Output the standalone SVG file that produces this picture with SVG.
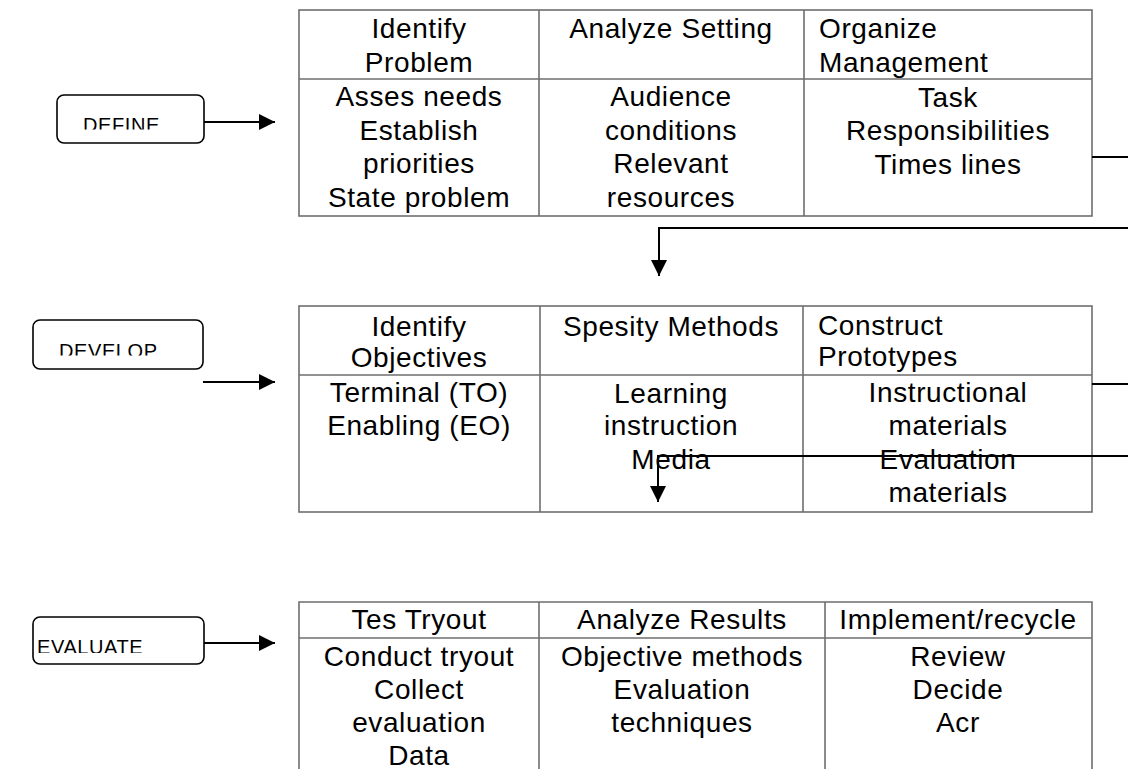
<svg xmlns="http://www.w3.org/2000/svg" width="1128" height="769" viewBox="0 0 1128 769">
<style>
.tbl{fill:none;stroke:#6e6e6e;stroke-width:1.6}
.lbl{fill:#fff;stroke:#000;stroke-width:1.6}
.t{font-family:"Liberation Sans",Arial,sans-serif;font-size:28px;letter-spacing:0.6px;fill:#000}
.c{text-anchor:middle}
.lt{font-family:"Liberation Sans",Arial,sans-serif;font-size:20px;letter-spacing:0.6px;fill:#000}
.con{fill:none;stroke:#000;stroke-width:2}
</style>
<defs>
<marker id="ah" viewBox="0 0 16 16" refX="16" refY="8" markerWidth="16" markerHeight="16" markerUnits="userSpaceOnUse" orient="auto">
<path d="M0,0 L16,8 L0,16 Z" fill="#000"/>
</marker>
<clipPath id="c1"><rect x="57" y="95" width="147" height="34.5"/></clipPath>
<clipPath id="c2"><rect x="33" y="320" width="170" height="35.5"/></clipPath>
<clipPath id="c3"><rect x="33" y="617" width="171" height="36"/></clipPath>
</defs>
<rect width="1128" height="769" fill="#fff"/>

<g id="define">
<rect class="lbl" x="57" y="95" width="147" height="48" rx="7"/>
<text class="lt" x="83" y="131.5" clip-path="url(#c1)">DEFINE</text>
</g>
<g id="develop">
<rect class="lbl" x="33" y="320" width="170" height="49" rx="7"/>
<text class="lt" x="59" y="357.5" clip-path="url(#c2)">DEVELOP</text>
</g>
<g id="evaluate">
<rect class="lbl" x="33" y="617" width="171" height="47" rx="7"/>
<text class="lt" x="37" y="654" clip-path="url(#c3)">EVALUATE</text>
</g>

<g id="define-table">
<rect class="tbl" x="299" y="10" width="793" height="206"/>
<line class="tbl" x1="299" y1="79" x2="1092" y2="79"/>
<line class="tbl" x1="539" y1="10" x2="539" y2="216"/>
<line class="tbl" x1="804" y1="10" x2="804" y2="216"/>
<text class="t c" x="419" y="38">Identify</text>
<text class="t c" x="419" y="72">Problem</text>
<text class="t c" x="419" y="106">Asses needs</text>
<text class="t c" x="419" y="140">Establish</text>
<text class="t c" x="419" y="173">priorities</text>
<text class="t c" x="419" y="207">State problem</text>
<text class="t c" x="671" y="38">Analyze Setting</text>
<text class="t c" x="671" y="106">Audience</text>
<text class="t c" x="671" y="140">conditions</text>
<text class="t c" x="671" y="173">Relevant</text>
<text class="t c" x="671" y="207">resources</text>
<text class="t" x="819" y="38">Organize</text>
<text class="t" x="819" y="72">Management</text>
<text class="t c" x="948" y="107">Task</text>
<text class="t c" x="948" y="140">Responsibilities</text>
<text class="t c" x="948" y="174">Times lines</text>
</g>

<g id="develop-table">
<rect class="tbl" x="299" y="306" width="793" height="206"/>
<line class="tbl" x1="299" y1="375" x2="1092" y2="375"/>
<line class="tbl" x1="540" y1="306" x2="540" y2="512"/>
<line class="tbl" x1="803" y1="306" x2="803" y2="512"/>
<text class="t c" x="419" y="336">Identify</text>
<text class="t c" x="419" y="367">Objectives</text>
<text class="t c" x="419" y="402">Terminal (TO)</text>
<text class="t c" x="419" y="435">Enabling (EO)</text>
<text class="t c" x="671" y="336">Spesity Methods</text>
<text class="t c" x="671" y="403">Learning</text>
<text class="t c" x="671" y="435">instruction</text>
<text class="t c" x="671" y="469">Media</text>
<text class="t" x="818" y="335">Construct</text>
<text class="t" x="818" y="366">Prototypes</text>
<text class="t c" x="948" y="402">Instructional</text>
<text class="t c" x="948" y="435">materials</text>
<text class="t c" x="948" y="469">Evaluation</text>
<text class="t c" x="948" y="502">materials</text>
</g>

<g id="evaluate-table">
<path class="tbl" d="M299,769 V602 H1092 V769"/>
<line class="tbl" x1="299" y1="638" x2="1092" y2="638"/>
<line class="tbl" x1="539" y1="602" x2="539" y2="769"/>
<line class="tbl" x1="825" y1="602" x2="825" y2="769"/>
<text class="t c" x="419" y="629">Tes Tryout</text>
<text class="t c" x="419" y="666">Conduct tryout</text>
<text class="t c" x="419" y="699">Collect</text>
<text class="t c" x="419" y="732">evaluation</text>
<text class="t c" x="419" y="765">Data</text>
<text class="t c" x="682" y="629">Analyze Results</text>
<text class="t c" x="682" y="666">Objective methods</text>
<text class="t c" x="682" y="699">Evaluation</text>
<text class="t c" x="682" y="732">techniques</text>
<text class="t c" x="958" y="629">Implement/recycle</text>
<text class="t c" x="958" y="666">Review</text>
<text class="t c" x="958" y="699">Decide</text>
<text class="t c" x="958" y="732">Acr</text>
</g>

<g id="connectors">
<line class="con" x1="204" y1="122" x2="275" y2="122" marker-end="url(#ah)"/>
<line class="con" x1="203" y1="382" x2="275" y2="382" marker-end="url(#ah)"/>
<line class="con" x1="204" y1="643" x2="275" y2="643" marker-end="url(#ah)"/>
<line class="con" x1="1092" y1="157" x2="1128" y2="157"/>
<path class="con" d="M1128,228 H659 V276" marker-end="url(#ah)"/>
<line class="con" x1="1092" y1="384" x2="1128" y2="384"/>
<path class="con" d="M1128,456 H658 V502" marker-end="url(#ah)"/>
</g>
</svg>
